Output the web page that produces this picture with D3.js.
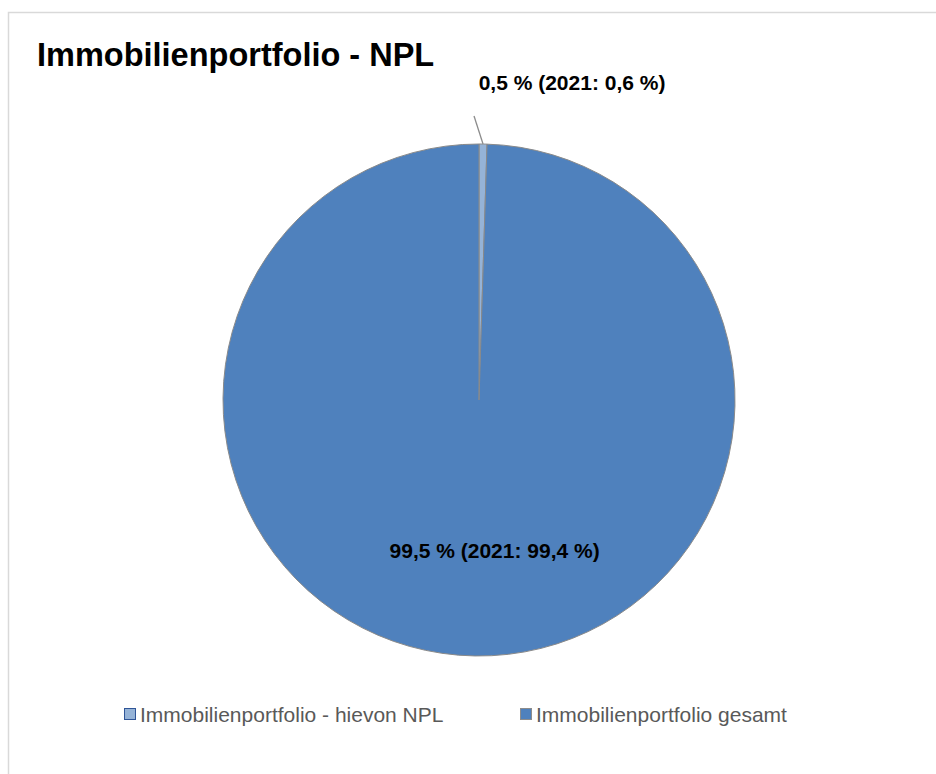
<!DOCTYPE html>
<html>
<head>
<meta charset="utf-8">
<script src="https://cdn.jsdelivr.net/npm/d3@7"></script>
<style>
    body { margin: 0; background: #fff; }
    svg { display: block; font-family: "Liberation Sans", Arial, sans-serif; }
</style>
</head>
<body>
<svg width="936" height="774"></svg>
<script>
let categories = ["Immobilienportfolio - hievon NPL", "Immobilienportfolio gesamt"];
let values = [0.5, 99.5];
let labels = ["0,5 % (2021: 0,6 %)", "99,5 % (2021: 99,4 %)"];
let colors = ["#95b3d7", "#4f81bd"];
let legendStroke = ["#2f5597", "#8c8c8c"];

let svg = d3.select("svg"),
    width = +svg.attr("width"),
    height = +svg.attr("height");

// chart frame, runs off the right/bottom edge
svg.append("rect")
    .attr("x", 8.5).attr("y", 12.5)
    .attr("width", width + 20).attr("height", height + 20)
    .attr("fill", "#fff")
    .attr("stroke", "#d9d9d9")
    .attr("stroke-width", 1.5);

svg.append("text")
    .attr("x", 37).attr("y", 66)
    .attr("font-size", 32.5)
    .attr("font-weight", "bold")
    .attr("fill", "#000")
    .text("Immobilienportfolio - NPL");

let cx = 479, cy = 400, radius = 256;
let g = svg.append("g").attr("transform", `translate(${cx},${cy})`);

let pie = d3.pie().sort(null).value(d => d);
let arcs = pie(values);
let arc = d3.arc().innerRadius(0).outerRadius(radius);

g.selectAll(".slice")
    .data(arcs)
    .enter().append("path")
    .attr("class", "slice")
    .attr("d", arc)
    .attr("fill", (d, i) => colors[i])
    .attr("stroke", "#8a8a8a")
    .attr("stroke-width", 1);

// small slice: label outside with leader line
let small = arcs[0];
let p0 = d3.arc().innerRadius(radius).outerRadius(radius).centroid(small);
let p1 = [p0[0] - 9, p0[1] - 28];
g.append("line")
    .attr("x1", p0[0]).attr("y1", p0[1])
    .attr("x2", p1[0]).attr("y2", p1[1])
    .attr("stroke", "#8c8c8c")
    .attr("stroke-width", 1.3);

g.append("text")
    .attr("x", p1[0] + 98).attr("y", p1[1] - 26)
    .attr("text-anchor", "middle")
    .attr("font-size", 21)
    .attr("font-weight", "bold")
    .attr("fill", "#000")
    .text(labels[0]);

// big slice label inside
let c = d3.arc().innerRadius(0).outerRadius(radius * 1.2).centroid(arcs[1]);
g.append("text")
    .attr("x", c[0] + 18).attr("y", c[1] + 4)
    .attr("text-anchor", "middle")
    .attr("font-size", 21)
    .attr("font-weight", "bold")
    .attr("fill", "#000")
    .text(labels[1]);

// legend
let legendX = [124, 520];
let legend = svg.selectAll(".legend")
    .data(categories)
    .enter().append("g")
    .attr("class", "legend")
    .attr("transform", (d, i) => `translate(${legendX[i]},708)`);

legend.append("rect")
    .attr("x", 0.5).attr("y", 0.5)
    .attr("width", 11).attr("height", 11)
    .attr("fill", (d, i) => colors[i])
    .attr("stroke", (d, i) => legendStroke[i])
    .attr("stroke-width", 1);

legend.append("text")
    .attr("x", 16).attr("y", 14)
    .attr("font-size", 21)
    .attr("fill", "#595959")
    .text(d => d);
</script>
</body>
</html>
